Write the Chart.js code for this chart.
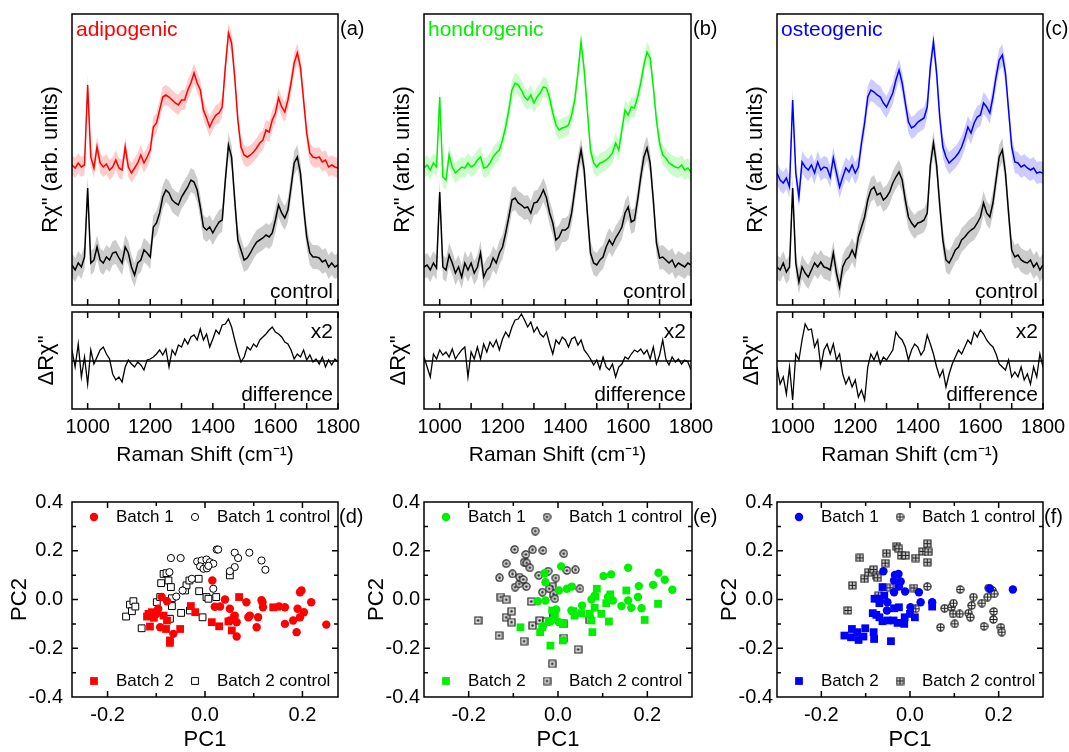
<!DOCTYPE html>
<html>
<head>
<meta charset="utf-8">
<script src="https://cdn.jsdelivr.net/npm/chart.js@4.4.1/dist/chart.umd.min.js"></script>
<style>
html, body { margin: 0; padding: 0; background: #fff; }
#fig { position: relative; width: 1069px; height: 752px; }
#fig canvas { position: absolute; left: 0; top: 0; }
</style>
</head>
<body>
<div id="fig"></div>
<script>
// Raman shift grid (cm-1)
var shift = [950,960,970,980,990,1000,1010,1020,1030,1040,
  1050,1060,1070,1080,1090,1100,1110,1120,1130,1140,
  1150,1160,1170,1180,1190,1200,1210,1220,1230,1240,
  1250,1260,1270,1280,1290,1300,1310,1320,1330,1340,
  1350,1360,1370,1380,1390,1400,1410,1420,1430,1440,
  1450,1460,1470,1480,1490,1500,1510,1520,1530,1540,
  1550,1560,1570,1580,1590,1600,1610,1620,1630,1640,
  1650,1660,1670,1680,1690,1700,1710,1720,1730,1740,
  1750,1760,1770,1780,1790,1800];

// (a) adipogenic / control / difference
var adipo = [140,137,142,138,140,220,148,137,158,142,
  138,141,135,138,145,137,135,158,138,132,
  137,142,150,142,148,155,178,182,195,208,
  210,208,205,202,200,205,205,215,222,232,
  222,215,195,187,178,185,190,192,198,238,
  272,262,228,185,158,150,148,150,153,157,
  162,165,175,173,185,192,207,198,193,205,
  222,242,252,238,205,172,152,148,147,148,
  143,145,138,140,138,137];
var ctrlA = [40,35,42,38,48,117,42,45,58,45,
  42,48,45,52,53,47,42,58,52,38,
  30,42,45,55,52,48,78,82,92,108,
  115,112,105,102,100,108,113,118,125,123,
  115,98,78,75,78,72,78,83,85,125,
  160,148,105,65,55,45,47,52,58,63,
  65,67,70,68,72,85,100,92,87,95,
  118,142,148,132,98,68,52,48,48,47,
  43,45,38,42,38,40];
var diffA = [11,-6,17,-16,4,-23,11,-3,4,11,
  14,7,2,-13,-19,-16,-21,-6,1,-3,
  -6,-1,-4,-9,1,2,4,7,11,6,
  12,-6,11,6,16,14,22,17,24,26,
  21,32,21,27,14,22,31,27,36,37,
  42,34,21,9,-1,4,14,11,17,14,
  21,24,27,31,34,29,27,24,19,17,
  11,2,7,4,11,1,6,-1,2,-3,
  4,-6,1,-4,2,-1];

// (b) hondrogenic / control / difference
var hondro = [137,140,135,142,138,208,128,125,150,138,
  132,135,138,137,142,138,140,145,148,137,
  138,142,148,152,155,165,178,195,215,222,
  220,215,208,205,210,202,208,212,218,217,
  207,192,180,175,177,178,180,190,205,232,
  263,235,195,155,142,138,142,143,145,148,
  152,162,155,175,195,190,198,197,208,222,
  240,253,247,218,185,162,150,147,142,140,
  138,137,140,135,137,133];
var ctrlB = [38,40,35,42,37,113,38,35,50,42,
  32,38,28,42,35,42,32,38,52,28,
  35,38,47,42,52,58,72,88,105,107,
  102,100,97,98,92,102,103,108,115,107,
  92,82,65,68,75,75,78,92,115,138,
  155,135,92,52,42,40,45,48,58,65,
  60,67,72,78,92,98,83,85,105,128,
  148,157,142,105,62,47,48,45,42,45,
  38,42,40,38,42,40];
var diffB = [4,-6,-16,7,2,11,6,9,4,12,
  2,7,11,14,-16,9,2,14,2,17,
  9,19,14,21,11,22,29,24,34,41,
  42,47,41,34,39,29,34,27,24,29,
  17,7,21,17,24,21,14,22,24,16,
  21,11,7,2,-4,1,-8,4,-6,-9,
  -3,-16,-6,-3,4,2,7,11,9,12,
  7,11,2,14,-3,6,21,2,-4,4,
  -1,2,-3,1,-1,-9];

// (c) osteogenic / control / difference
var osteo = [132,125,122,127,118,205,132,108,143,138,
  135,140,132,143,135,138,137,128,147,132,
  118,128,137,133,140,132,138,162,182,208,
  215,213,210,208,202,198,205,212,225,235,
  222,202,183,177,179,183,185,187,198,238,
  263,232,188,158,148,142,145,148,152,158,
  167,178,172,182,188,190,202,198,192,208,
  228,245,250,232,195,158,143,142,138,140,
  137,135,137,132,133,132];
var ctrlC = [38,35,42,33,38,117,42,23,38,32,
  28,35,42,38,43,38,37,35,52,32,
  18,38,45,48,55,48,68,78,88,105,
  115,118,110,112,105,108,113,122,128,133,
  125,105,88,82,78,82,83,85,92,140,
  162,140,100,65,45,42,48,55,58,65,
  68,72,75,77,82,88,102,92,88,102,
  125,148,155,132,92,55,48,50,45,43,
  42,45,38,42,35,40];
var diffC = [-6,-23,-16,-33,-6,-39,7,1,21,37,
  31,32,14,21,-6,11,17,7,17,1,
  7,-13,-23,-16,-26,-19,-36,-29,-39,-6,
  7,1,9,-3,4,1,6,11,29,24,
  21,14,1,11,17,14,6,11,26,17,
  7,-6,-16,-9,-26,-13,-3,4,11,7,
  14,21,17,29,24,31,27,21,17,14,
  7,-3,-6,-9,1,-16,-11,-16,-6,-19,
  -13,-23,-6,-16,7,-6];

// half widths of the shaded bands
var bandA = 10, bandCtrlA = 12;
var bandB = 10, bandCtrlB = 12;
var bandC = 11, bandCtrlC = 12;

// x tick labels of the spectra
var ramanTicks = [1000, 1200, 1400, 1600, 1800];

// PCA scores [PC1, PC2]
var dBatch1 = [[0.015,0.078],[0.041,0.0],[0.02,-0.03],[0.031,-0.029],[0.051,-0.038],[0.061,-0.066],[0.051,-0.086],[0.065,-0.093],[0.065,-0.152],[0.085,-0.011],[0.089,-0.073],[0.092,-0.066],[0.106,-0.114],[0.109,-0.073],[0.119,-0.032],[0.116,-0.003],[0.118,-0.011],[0.152,-0.029],[0.164,-0.032],[0.164,-0.1],[0.181,-0.086],[0.19,-0.038],[0.188,-0.134],[0.195,0.03],[0.198,0.037],[0.195,-0.073],[0.203,-0.052],[0.218,-0.011],[0.249,-0.103],[-0.089,0.01],[-0.078,-0.007],[-0.096,-0.038],[-0.092,-0.114],[-0.065,-0.141],[-0.1,-0.06]];
var dBatch2 = [[-0.119,-0.07],[-0.116,-0.059],[-0.109,-0.052],[-0.113,-0.111],[-0.085,-0.066],[-0.078,-0.086],[-0.08,-0.121],[-0.072,-0.168],[-0.072,-0.178],[-0.051,-0.121],[-0.029,-0.027],[-0.02,-0.052],[0.014,-0.093],[0.029,-0.11],[0.055,-0.127],[0.07,0.01],[0.048,-0.09],[0.14,-0.032],[0.06,-0.075],[-0.105,-0.075]];
var dCtrl1 = [[-0.07,0.17],[-0.05,0.17],[-0.073,0.112],[-0.016,0.156],[-0.007,0.16],[0.003,0.164],[0.01,0.153],[0.017,0.147],[-0.01,0.136],[-0.003,0.126],[0.004,0.128],[0.007,0.138],[0.024,0.205],[0.027,0.205],[0.061,0.192],[0.068,0.17],[0.091,0.192],[0.116,0.16],[0.124,0.122],[0.061,0.133],[0.051,0.116],[0.017,0.044],[-0.027,0.085],[-0.046,0.037],[-0.059,0.012]];
var dCtrl2 = [[-0.162,-0.07],[-0.154,-0.021],[-0.147,-0.007],[-0.15,-0.048],[-0.143,-0.029],[-0.13,-0.118],[-0.09,0.067],[-0.085,0.105],[-0.079,0.108],[-0.075,0.078],[-0.07,0.051],[-0.099,-0.011],[-0.068,0.005],[-0.068,-0.027],[-0.072,-0.079],[-0.049,-0.055],[-0.041,0.037],[-0.038,0.058],[-0.032,0.078],[-0.013,0.085],[-0.012,0.034],[0.003,0.01],[0.007,0.003],[-0.005,-0.073],[0.023,0.01],[0.051,0.099],[-0.031,-0.045],[-0.092,0.01]];

var eBatch1 = [[0.007,0.136],[-0.03,0.108],[-0.028,0.071],[0.002,0.037],[0.02,0.044],[0.031,0.053],[-0.045,-0.007],[-0.028,-0.004],[-0.004,-0.041],[0.002,-0.093],[-0.015,-0.086],[0.054,-0.025],[0.075,0.0],[0.082,0.016],[0.102,0.096],[0.119,0.103],[0.112,0.01],[0.123,-0.004],[0.142,-0.027],[0.157,0.13],[0.157,-0.004],[0.164,-0.034],[0.181,0.055],[0.179,0.01],[0.187,-0.036],[0.213,0.06],[0.225,0.11],[0.239,0.081],[0.256,0.04],[0.03,-0.045],[-0.034,-0.11]];
var eBatch2 = [[-0.084,-0.114],[-0.04,-0.134],[-0.035,-0.114],[-0.017,-0.189],[0.011,-0.168],[0.011,-0.1],[-0.013,-0.045],[-0.007,-0.066],[0.034,-0.048],[0.037,-0.066],[0.052,-0.056],[0.071,-0.059],[0.075,-0.086],[0.077,-0.134],[0.082,-0.034],[0.084,0.012],[0.087,0.044],[0.097,-0.059],[0.108,-0.015],[0.114,-0.09],[0.117,0.021],[0.153,0.037],[0.194,-0.084],[0.224,-0.018],[-0.02,-0.09]];
var eCtrl1 = [[-0.131,0.089],[-0.116,0.147],[-0.097,0.205],[-0.102,0.105],[-0.096,0.051],[-0.087,0.064],[-0.086,0.092],[-0.078,0.082],[-0.071,0.053],[-0.076,0.153],[-0.072,0.185],[-0.07,0.15],[-0.063,0.13],[-0.057,0.204],[-0.051,0.281],[-0.034,0.201],[-0.043,0.099],[-0.022,0.116],[-0.005,0.088],[0.013,0.188],[0.02,0.119],[0.039,0.122],[0.049,0.044],[-0.035,0.03],[-0.02,0.044],[-0.007,0.003]];
var eCtrl2 = [[-0.179,-0.086],[-0.128,0.01],[-0.116,-0.001],[-0.116,-0.073],[-0.104,-0.048],[-0.104,-0.093],[-0.132,-0.148],[-0.076,-0.171],[-0.06,-0.008],[-0.057,-0.107],[-0.041,-0.086],[-0.026,-0.09],[-0.013,0.053],[-0.01,0.023],[-0.011,-0.059],[0.013,-0.1],[0.013,-0.158],[0.045,-0.205],[-0.013,-0.264],[0.071,-0.084],[-0.01,-0.07]];

var fBatch1 = [[-0.06,0.116],[-0.034,0.101],[-0.026,0.105],[-0.036,0.078],[-0.021,0.074],[-0.025,0.053],[-0.036,0.03],[-0.011,0.033],[0.02,0.03],[0.024,-0.011],[0.05,-0.011],[0.001,-0.032],[-0.051,-0.011],[-0.052,-0.045],[-0.073,0.003],[-0.068,-0.008],[0.18,0.045],[0.232,0.041]];
var fBatch2 = [[-0.062,0.051],[-0.058,0.016],[-0.08,0.003],[-0.069,-0.015],[-0.084,-0.056],[-0.076,-0.063],[-0.069,-0.073],[-0.062,-0.089],[-0.051,-0.086],[-0.037,-0.086],[-0.028,-0.096],[-0.013,-0.1],[-0.012,-0.073],[0.0,-0.059],[0.011,-0.073],[-0.036,-0.036],[-0.025,-0.032],[-0.148,-0.148],[-0.133,-0.155],[-0.131,-0.121],[-0.119,-0.134],[-0.116,-0.166],[-0.105,-0.152],[-0.101,-0.118],[-0.082,-0.134],[-0.081,-0.162],[-0.043,-0.171],[0.05,-0.029]];
var fCtrl1 = [[0.069,-0.114],[0.078,-0.036],[0.093,-0.032],[0.098,-0.015],[0.097,-0.059],[0.101,-0.1],[0.112,-0.059],[0.113,0.041],[0.132,-0.056],[0.136,-0.073],[0.139,-0.025],[0.143,0.01],[0.162,-0.015],[0.167,-0.11],[0.175,0.01],[0.177,0.047],[0.186,0.037],[0.19,0.023],[0.189,-0.049],[0.188,-0.082],[0.205,-0.114],[0.207,-0.134],[0.039,0.053],[0.013,-0.038]];
var fCtrl2 = [[-0.113,0.171],[-0.13,0.058],[-0.14,-0.045],[-0.103,0.085],[-0.094,0.112],[-0.082,0.123],[-0.076,0.099],[-0.073,0.089],[-0.071,0.016],[-0.056,0.149],[-0.053,0.19],[-0.045,0.048],[-0.03,0.218],[-0.025,0.208],[-0.02,0.181],[-0.01,0.181],[0.009,0.047],[0.013,0.17],[0.029,0.197],[0.039,0.229],[0.041,0.195],[0.039,0.153]];

var pcTicks = [-0.4, -0.2, 0, 0.2, 0.4];
var pc1Ticks = [-0.2, 0, 0.2];

// ---------------------------------------------------------------
var W = 1069, H = 752;
var FONT = '"Liberation Sans", Arial, Helvetica, sans-serif';
var RED = '#ff0000', GREEN = '#00f000', BLUE = '#0000ff';

function newCanvas() {
	var c = document.createElement('canvas');
	c.width = W; c.height = H;
	document.getElementById('fig').appendChild(c);
	return c;
}

function xy(ys) {
	return ys.map(function(v, i){ return {x: shift[i], y: v}; });
}
function pairs(list) {
	return list.map(function(p){ return {x: p[0], y: p[1]}; });
}
function offset(ys, d) {
	return ys.map(function(v){ return v + d; });
}

// frame, inward ticks, in-panel texts and legend
var framePlugin = {
	id: 'frame',
	afterDraw: function(chart, args, o) {
		var ctx = chart.ctx, a = chart.chartArea;
		var sx = chart.scales.x, sy = chart.scales.y;
		ctx.save();
		ctx.strokeStyle = '#000';
		ctx.lineWidth = 1.5;
		ctx.beginPath();
		(o.xTicks || []).forEach(function(t){
			var px = sx.getPixelForValue(t[0]);
			ctx.moveTo(px, a.bottom); ctx.lineTo(px, a.bottom - t[1]);
			if (o.topTicks) { ctx.moveTo(px, a.top); ctx.lineTo(px, a.top + t[1]); }
		});
		(o.yTicks || []).forEach(function(t){
			var py = sy.getPixelForValue(t[0]);
			ctx.moveTo(a.left, py); ctx.lineTo(a.left + t[1], py);
			ctx.moveTo(a.right, py); ctx.lineTo(a.right - t[1], py);
		});
		ctx.stroke();
		ctx.strokeRect(a.left, a.top, a.right - a.left, a.bottom - a.top);
		ctx.textBaseline = 'middle';
		(o.texts || []).forEach(function(t){
			ctx.font = t.size + 'px ' + FONT;
			ctx.fillStyle = t.color || '#000';
			ctx.textAlign = t.align || 'left';
			ctx.fillText(t.s, t.x, t.y);
		});
		(o.legend || []).forEach(function(it){
			var ds = chart.data.datasets[it.ds];
			var x = a.left + it.dx, y = it.top ? a.top + 15 : a.bottom - 16;
			ctx.fillStyle = ds.pointBackgroundColor;
			ctx.strokeStyle = ds.pointBorderColor;
			ctx.lineWidth = ds.pointBorderWidth;
			Chart.helpers.drawPoint(ctx, {pointStyle: ds.pointStyle, radius: ds.pointRadius, rotation: 0, borderWidth: ds.pointBorderWidth}, x, y);
			ctx.font = '17px ' + FONT;
			ctx.fillStyle = '#000';
			ctx.textAlign = 'left';
			ctx.fillText(ds.label, x + 22, y);
		});
		ctx.restore();
	}
};

function ramanTickMarks() {
	var t = [];
	for (var v = 1000; v <= 1800; v += 100) t.push([v, 6]);
	return t;
}

function lineSet(ys, color, w) {
	return {data: xy(ys), borderColor: color, borderWidth: w, pointRadius: 0, tension: 0, fill: false};
}
function bandSet(ys, color, fill) {
	return {data: xy(ys), borderWidth: 0, borderColor: 'rgba(0,0,0,0)', backgroundColor: color, pointRadius: 0, tension: 0, fill: fill};
}

function spectrumChart(L, R, ys, color, band, hw, ctl, hwc, name, tag) {
	var yW = 32;
	new Chart(newCanvas(), {
		type: 'line',
		data: {datasets: [
			lineSet(ys, color, 1.5),
			lineSet(ctl, '#000', 1.5),
			bandSet(offset(ys, hw), band, '+1'),
			bandSet(offset(ys, -hw), band, false),
			bandSet(offset(ctl, hwc), 'rgba(0,0,0,0.2)', '+1'),
			bandSet(offset(ctl, -hwc), 'rgba(0,0,0,0.2)', false)
		]},
		options: {
			responsive: false, animation: false, events: [],
			layout: {padding: {left: L - yW, top: 14, right: W - R, bottom: H - 305}},
			scales: {
				x: {type: 'linear', min: 950, max: 1800, display: false},
				y: {min: 0, max: 291,
					ticks: {display: false},
					grid: {display: false, drawTicks: false},
					border: {display: false},
					title: {display: true, text: 'R\u03c7" (arb. units)', color: '#000', padding: 0,
						font: {family: FONT, size: 22, lineHeight: 1}},
					afterFit: function(s){ s.width = yW; s.paddingTop = 0; s.paddingBottom = 0; }}
			},
			plugins: {
				legend: {display: false}, tooltip: {enabled: false},
				frame: {
					xTicks: ramanTickMarks(), topTicks: false,
					texts: [
						{s: name, x: L + 4, y: 30, size: 21, color: color},
						{s: tag, x: R + 2, y: 29, size: 20},
						{s: 'control', x: R - 5, y: 292, size: 21, align: 'right'}
					]
				}
			}
		},
		plugins: [framePlugin]
	});
}

function diffChart(L, R, ys) {
	var yW = 36;
	new Chart(newCanvas(), {
		type: 'line',
		data: {datasets: [
			lineSet(ys, '#000', 1.3),
			{data: [{x: 950, y: 0}, {x: 1800, y: 0}], borderColor: '#000', borderWidth: 1.5, pointRadius: 0, fill: false}
		]},
		options: {
			responsive: false, animation: false, events: [],
			layout: {padding: {left: L - yW, top: 312, right: W - R, bottom: H - 409 - 56.5}},
			scales: {
				x: {type: 'linear', min: 950, max: 1800,
					afterBuildTicks: function(s){ s.ticks = ramanTicks.map(function(v){ return {value: v}; }); },
					ticks: {callback: function(v){ return String(v); }, color: '#000', padding: 6,
						autoSkip: false, maxRotation: 0, minRotation: 0, font: {family: FONT, size: 20}},
					grid: {display: false, drawTicks: false},
					border: {display: false},
					title: {display: true, text: 'Raman Shift (cm\u207b\u00b9)', color: '#000', padding: 0,
						font: {family: FONT, size: 21, lineHeight: 1}},
					afterFit: function(s){ s.height = 56.5; s.paddingLeft = 0; s.paddingRight = 0; }},
				y: {min: -48, max: 49,
					ticks: {display: false},
					grid: {display: false, drawTicks: false},
					border: {display: false},
					title: {display: true, text: '\u0394R\u03c7"', color: '#000', padding: 0,
						font: {family: FONT, size: 22, lineHeight: 1}},
					afterFit: function(s){ s.width = yW; s.paddingTop = 0; s.paddingBottom = 0; }}
			},
			plugins: {
				legend: {display: false}, tooltip: {enabled: false},
				frame: {
					xTicks: ramanTickMarks(), topTicks: true,
					texts: [
						{s: 'x2', x: R - 5, y: 332, size: 21, align: 'right'},
						{s: 'difference', x: R - 5, y: 395, size: 21, align: 'right'}
					]
				}
			}
		},
		plugins: [framePlugin]
	});
}

// small marker images for the control groups of (e) and (f)
function marker(shape, inner) {
	var c = document.createElement('canvas');
	c.width = 9; c.height = 9;
	var g = c.getContext('2d');
	g.strokeStyle = '#222'; g.lineWidth = 1.2;
	g.fillStyle = inner === 'dot' ? '#d8d8d8' : (shape === 'circle' ? '#fff' : '#cfcfcf');
	g.beginPath();
	if (shape === 'circle') g.arc(4.5, 4.5, 3.6, 0, 2 * Math.PI); else g.rect(1, 1, 7, 7);
	g.fill(); g.stroke();
	if (inner === 'dot') {
		g.beginPath(); g.fillStyle = '#222'; g.arc(4.5, 4.5, 1.2, 0, 2 * Math.PI); g.fill();
	} else {
		g.beginPath(); g.moveTo(4.5, 1); g.lineTo(4.5, 8); g.moveTo(1, 4.5); g.lineTo(8, 4.5); g.stroke();
	}
	return c;
}

function ptSet(label, list, style, radius, fillC, lineC, bw) {
	return {label: label, data: pairs(list), pointStyle: style, pointRadius: radius,
		pointBackgroundColor: fillC, pointBorderColor: lineC, pointBorderWidth: bw, showLine: false};
}

function scatterChart(L, R, xr, yW, pad, sets, tag) {
	var xt = [], yt = [];
	[-0.3, -0.2, -0.1, 0, 0.1, 0.2, 0.3].forEach(function(v){
		if (Math.abs(v) < xr) xt.push([v, Math.abs(Math.round(v * 10)) % 2 === 0 ? 6 : 4]);
	});
	[-0.3, -0.2, -0.1, 0, 0.1, 0.2, 0.3].forEach(function(v){
		yt.push([v, Math.abs(Math.round(v * 10)) % 2 === 0 ? 6 : 4]);
	});
	new Chart(newCanvas(), {
		type: 'scatter',
		data: {datasets: sets},
		options: {
			responsive: false, animation: false, events: [],
			layout: {padding: {left: L - yW, top: 502, right: W - R, bottom: H - 697 - 54}},
			scales: {
				x: {type: 'linear', min: -xr, max: xr,
					afterBuildTicks: function(s){ s.ticks = pc1Ticks.map(function(v){ return {value: v}; }); },
					ticks: {callback: function(v){ return v.toFixed(1); }, color: '#000', padding: 6,
						autoSkip: false, maxRotation: 0, minRotation: 0, font: {family: FONT, size: 20}},
					grid: {display: false, drawTicks: false},
					border: {display: false},
					title: {display: true, text: 'PC1', color: '#000', padding: 0,
						font: {family: FONT, size: 22, lineHeight: 1}},
					afterFit: function(s){ s.height = 54; s.paddingLeft = 0; s.paddingRight = 0; }},
				y: {min: -0.4, max: 0.4,
					afterBuildTicks: function(s){ s.ticks = pcTicks.map(function(v){ return {value: v}; }); },
					ticks: {callback: function(v){ return v.toFixed(1); }, color: '#000', padding: pad,
						autoSkip: false, font: {family: FONT, size: 20}},
					grid: {display: false, drawTicks: false},
					border: {display: false},
					title: {display: true, text: 'PC2', color: '#000', padding: 0,
						font: {family: FONT, size: 22, lineHeight: 1}},
					afterFit: function(s){ s.width = yW; s.paddingTop = 0; s.paddingBottom = 0; }}
			},
			plugins: {
				legend: {display: false}, tooltip: {enabled: false},
				frame: {
					xTicks: xt, topTicks: true, yTicks: yt,
					texts: [{s: tag, x: R + 1, y: 517, size: 20}],
					legend: [
						{ds: 0, dx: 22, top: true},
						{ds: 2, dx: 123, top: true},
						{ds: 1, dx: 22, top: false},
						{ds: 3, dx: 123, top: false}
					]
				}
			}
		},
		plugins: [framePlugin]
	});
}

// spectra
spectrumChart(72, 338, adipo, RED, 'rgba(255,0,0,0.2)', bandA, ctrlA, bandCtrlA, 'adipogenic', '(a)');
spectrumChart(424, 691, hondro, GREEN, 'rgba(0,240,0,0.2)', bandB, ctrlB, bandCtrlB, 'hondrogenic', '(b)');
spectrumChart(777, 1043, osteo, BLUE, 'rgba(0,0,255,0.2)', bandC, ctrlC, bandCtrlC, 'osteogenic', '(c)');
diffChart(72, 338, diffA);
diffChart(424, 691, diffB);
diffChart(777, 1043, diffC);

// PCA
scatterChart(72, 338, 0.273, 63, 9, [
	ptSet('Batch 1', dBatch1, 'circle', 4.2, RED, RED, 0),
	ptSet('Batch 2', dBatch2, 'rect', 5.5, RED, RED, 0),
	ptSet('Batch 1 control', dCtrl1, 'circle', 3.6, '#fff', '#000', 1),
	ptSet('Batch 2 control', dCtrl2, 'rect', 4.8, '#fff', '#000', 1)
], '(d)');
scatterChart(424, 692, 0.3, 58, 4, [
	ptSet('Batch 1', eBatch1, 'circle', 4.2, GREEN, GREEN, 0),
	ptSet('Batch 2', eBatch2, 'rect', 5.5, GREEN, GREEN, 0),
	ptSet('Batch 1 control', eCtrl1, marker('circle', 'dot'), 4, '#fff', '#222', 1),
	ptSet('Batch 2 control', eCtrl2, marker('rect', 'dot'), 4, '#fff', '#222', 1)
], '(e)');
scatterChart(777, 1043, 0.3, 58, 4, [
	ptSet('Batch 1', fBatch1, 'circle', 4.2, BLUE, BLUE, 0),
	ptSet('Batch 2', fBatch2, 'rect', 5.5, BLUE, BLUE, 0),
	ptSet('Batch 1 control', fCtrl1, marker('circle', 'plus'), 4, '#fff', '#222', 1),
	ptSet('Batch 2 control', fCtrl2, marker('rect', 'plus'), 4, '#fff', '#222', 1)
], '(f)');
</script>
</body>
</html>
